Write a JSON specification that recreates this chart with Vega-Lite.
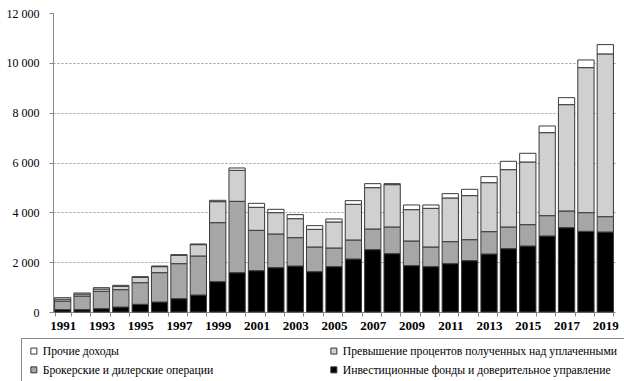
{
  "$schema": "https://vega.github.io/schema/vega-lite/v6.json",
  "width": 562,
  "height": 299,
  "autosize": {"type": "none"},
  "padding": {"left": 53, "top": 13, "right": 9, "bottom": 69},
  "background": "white",
  "config": {"view": {"stroke": null}, "font": "Liberation Serif"},
  "data": {"values": [
    {"year": "1991", "Инвестиционные фонды и доверительное управление": 95, "Брокерские и дилерские операции": 345, "Превышение процентов полученных над уплаченными": 75, "Прочие доходы": 60},
    {"year": "1992", "Инвестиционные фонды и доверительное управление": 95, "Брокерские и дилерские операции": 545, "Превышение процентов полученных над уплаченными": 80, "Прочие доходы": 43},
    {"year": "1993", "Инвестиционные фонды и доверительное управление": 134, "Брокерские и дилерские операции": 696, "Превышение процентов полученных над уплаченными": 93, "Прочие доходы": 54},
    {"year": "1994", "Инвестиционные фонды и доверительное управление": 200, "Брокерские и дилерские операции": 696, "Превышение процентов полученных над уплаченными": 134, "Прочие доходы": 40},
    {"year": "1995", "Инвестиционные фонды и доверительное управление": 308, "Брокерские и дилерские операции": 869, "Превышение процентов полученных над уплаченными": 214, "Прочие доходы": 27},
    {"year": "1996", "Инвестиционные фонды и доверительное управление": 401, "Брокерские и дилерские операции": 1178, "Превышение процентов полученных над уплаченными": 241, "Прочие доходы": 26},
    {"year": "1997", "Инвестиционные фонды и доверительное управление": 535, "Брокерские и дилерские операции": 1405, "Превышение процентов полученных над уплаченными": 335, "Прочие доходы": 26},
    {"year": "1998", "Инвестиционные фонды и доверительное управление": 682, "Брокерские и дилерские операции": 1566, "Превышение процентов полученных над уплаченными": 455, "Прочие доходы": 27},
    {"year": "1999", "Инвестиционные фонды и доверительное управление": 1218, "Брокерские и дилерские операции": 2368, "Превышение процентов полученных над уплаченными": 843, "Прочие доходы": 53},
    {"year": "2000", "Инвестиционные фонды и доверительное управление": 1579, "Брокерские и дилерские операции": 2863, "Превышение процентов полученных над уплаченными": 1245, "Прочие доходы": 93},
    {"year": "2001", "Инвестиционные фонды и доверительное управление": 1659, "Брокерские и дилерские операции": 1619, "Превышение процентов полученных над уплаченными": 923, "Прочие доходы": 161},
    {"year": "2002", "Инвестиционные фонды и доверительное управление": 1780, "Брокерские и дилерские операции": 1351, "Превышение процентов полученных над уплаченными": 856, "Прочие доходы": 134},
    {"year": "2003", "Инвестиционные фонды и доверительное управление": 1846, "Брокерские и дилерские операции": 1138, "Превышение процентов полученных над уплаченными": 762, "Прочие доходы": 161},
    {"year": "2004", "Инвестиционные фонды и доверительное управление": 1619, "Брокерские и дилерские операции": 990, "Превышение процентов полученных над уплаченными": 709, "Прочие доходы": 147},
    {"year": "2005", "Инвестиционные фонды и доверительное управление": 1820, "Брокерские и дилерские операции": 749, "Превышение процентов полученных над уплаченными": 1044, "Прочие доходы": 120},
    {"year": "2006", "Инвестиционные фонды и доверительное управление": 2127, "Брокерские и дилерские операции": 763, "Превышение процентов полученных над уплаченными": 1432, "Прочие доходы": 147},
    {"year": "2007", "Инвестиционные фонды и доверительное управление": 2502, "Брокерские и дилерские операции": 830, "Превышение процентов полученных над уплаченными": 1659, "Прочие доходы": 160},
    {"year": "2008", "Инвестиционные фонды и доверительное управление": 2342, "Брокерские и дилерские операции": 1070, "Превышение процентов полученных над уплаченными": 1699, "Прочие доходы": 40},
    {"year": "2009", "Инвестиционные фонды и доверительное управление": 1860, "Брокерские и дилерские операции": 990, "Превышение процентов полученных над уплаченными": 1258, "Прочие доходы": 187},
    {"year": "2010", "Инвестиционные фонды и доверительное управление": 1820, "Брокерские и дилерские операции": 789, "Превышение процентов полученных над уплаченными": 1552, "Прочие доходы": 134},
    {"year": "2011", "Инвестиционные фонды и доверительное управление": 1940, "Брокерские и дилерские операции": 883, "Превышение процентов полученных над уплаченными": 1753, "Прочие доходы": 174},
    {"year": "2012", "Инвестиционные фонды и доверительное управление": 2061, "Брокерские и дилерские операции": 842, "Превышение процентов полученных над уплаченными": 1767, "Прочие доходы": 254},
    {"year": "2013", "Инвестиционные фонды и доверительное управление": 2328, "Брокерские и дилерские операции": 897, "Превышение процентов полученных над уплаченными": 1966, "Прочие доходы": 241},
    {"year": "2014", "Инвестиционные фонды и доверительное управление": 2542, "Брокерские и дилерские операции": 870, "Превышение процентов полученных над уплаченными": 2301, "Прочие доходы": 335},
    {"year": "2015", "Инвестиционные фонды и доверительное управление": 2649, "Брокерские и дилерские операции": 857, "Превышение процентов полученных над уплаченными": 2515, "Прочие доходы": 348},
    {"year": "2016", "Инвестиционные фонды и доверительное управление": 3051, "Брокерские и дилерские операции": 816, "Превышение процентов полученных над уплаченными": 3331, "Прочие доходы": 268},
    {"year": "2017", "Инвестиционные фонды и доверительное управление": 3385, "Брокерские и дилерские операции": 669, "Превышение процентов полученных над уплаченными": 4268, "Прочие доходы": 281},
    {"year": "2018", "Инвестиционные фонды и доверительное управление": 3238, "Брокерские и дилерские операции": 749, "Превышение процентов полученных над уплаченными": 5820, "Прочие доходы": 308},
    {"year": "2019", "Инвестиционные фонды и доверительное управление": 3211, "Брокерские и дилерские операции": 616, "Превышение процентов полученных над уплаченными": 6531, "Прочие доходы": 373}
  ]},
  "transform": [
    {"fold": ["Инвестиционные фонды и доверительное управление", "Брокерские и дилерские операции", "Превышение процентов полученных над уплаченными", "Прочие доходы"], "as": ["series", "value"]},
    {"window": [{"op": "row_number", "as": "layer"}], "groupby": ["year"]}
  ],
  "mark": {"type": "bar", "stroke": "#3a3a3a", "strokeWidth": 1},
  "encoding": {
    "x": {
      "field": "year", "type": "ordinal",
      "scale": {"paddingInner": 0.16, "paddingOuter": 0.08},
      "axis": {
        "title": null, "labelAngle": 0, "tickBand": "extent",
        "labelExpr": "toNumber(datum.value) % 2 == 1 ? datum.value : ''",
        "labelFont": "Liberation Serif", "labelFontSize": 13, "labelFontWeight": "bold", "labelColor": "#000",
        "labelPadding": 3, "tickSize": 4, "tickColor": "#888", "domainColor": "#888"
      }
    },
    "y": {
      "field": "value", "type": "quantitative", "stack": "zero",
      "scale": {"domain": [0, 12000], "nice": false},
      "axis": {
        "title": null, "values": [0, 2000, 4000, 6000, 8000, 10000, 12000],
        "labelExpr": "replace(format(datum.value, ','), ',', ' ')",
        "labelFont": "Liberation Serif", "labelFontSize": 12, "labelColor": "#000",
        "labelPadding": 10, "tickSize": 4, "tickColor": "#888", "domainColor": "#888",
        "grid": true, "gridDash": [2, 2], "gridColor": "#999",
        "gridOpacity": {"condition": {"test": "datum.value == 0 || datum.value == 12000", "value": 0}, "value": 1}
      }
    },
    "order": {"field": "layer", "type": "quantitative", "sort": "ascending"},
    "color": {
      "field": "series", "type": "nominal",
      "sort": ["Прочие доходы", "Превышение процентов полученных над уплаченными", "Брокерские и дилерские операции", "Инвестиционные фонды и доверительное управление"],
      "scale": {
        "domain": ["Прочие доходы", "Превышение процентов полученных над уплаченными", "Брокерские и дилерские операции", "Инвестиционные фонды и доверительное управление"],
        "range": ["#ffffff", "#d0d0d0", "#a6a6a6", "#000000"]
      },
      "legend": {
        "title": null, "orient": "none", "legendX": -32, "legendY": 325,
        "direction": "horizontal", "columns": 2, "columnPadding": 114, "rowPadding": 6,
        "padding": 7, "strokeColor": "#888",
        "symbolType": "square", "symbolSize": 36, "symbolStrokeColor": "#333", "symbolStrokeWidth": 1,
        "labelFont": "Liberation Serif", "labelFontSize": 11.7, "labelColor": "#000", "labelLimit": 400, "labelOffset": 3
      }
    }
  }
}
